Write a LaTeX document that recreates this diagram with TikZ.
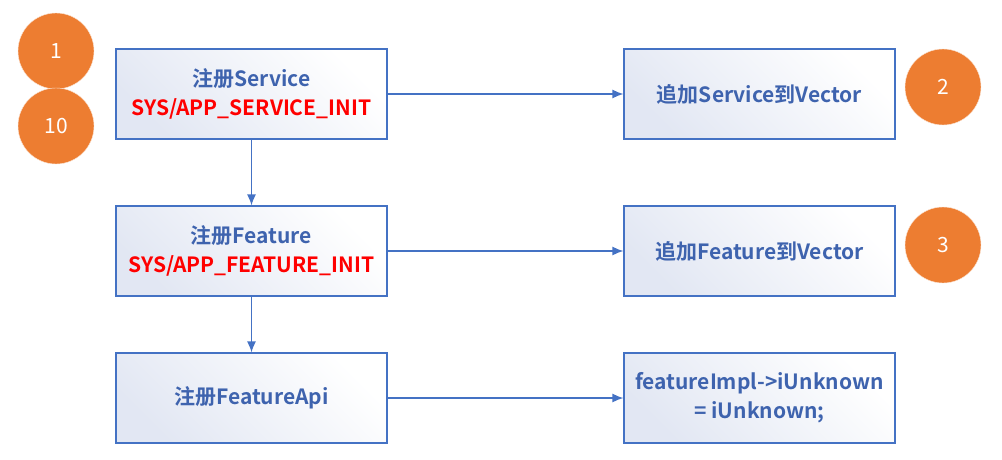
\documentclass[tikz,border=0pt]{standalone}
\usepackage{fontspec}
\setmainfont{Noto Sans CJK SC}[BoldFont={Noto Sans CJK SC Bold}]
\usetikzlibrary{arrows.meta}
\definecolor{boxblue}{HTML}{4472C4}
\definecolor{txtblue}{HTML}{3E63AE}
\definecolor{numorange}{HTML}{ED7D31}
\definecolor{gradtop}{HTML}{E2E7F3}

\begin{document}
\begin{tikzpicture}[x=1pt,y=-1pt,>={Latex[length=11pt,width=9pt]},
  box/.style={draw=boxblue,line width=1.2pt,left color=gradtop,right color=white,shading angle=135,
    minimum width=271pt,minimum height=90pt,align=center,text=txtblue,
    font=\bfseries\fontsize{21}{29}\selectfont},
  num/.style={circle,fill=numorange,draw=white!80!numorange,minimum size=76pt,inner sep=0pt,
    text=white,font=\fontsize{21}{24}\selectfont},
  link/.style={->,draw=boxblue,line width=1.3pt}]
  \useasboundingbox (0,0) rectangle (1002,460);
  \node[box] (S) at (251.5,94) {注册Service\\\textcolor{red}{SYS/APP\_SERVICE\_INIT}};
  \node[box] (F) at (251.5,251) {注册Feature\\\textcolor{red}{SYS/APP\_FEATURE\_INIT}};
  \node[box] (A) at (251.5,398) {注册FeatureApi};
  \node[box] (SV) at (759.5,94) {追加Service到Vector};
  \node[box] (FV) at (759.5,251) {追加Feature到Vector};
  \node[box] (U) at (759.5,398) {featureImpl->iUnknown\\= iUnknown;};
  \node[num] (n1) at (56,51) {1};
  \node[num] (n10) at (56,126) {10};
  \node[num] (n2) at (943,87) {2};
  \node[num] (n3) at (943,245) {3};
  \draw[link] (S) -- (SV);
  \draw[link] (F) -- (FV);
  \draw[link] (A) -- (U);
  \draw[link] (S) -- (F);
  \draw[link] (F) -- (A);
\end{tikzpicture}
\end{document}
